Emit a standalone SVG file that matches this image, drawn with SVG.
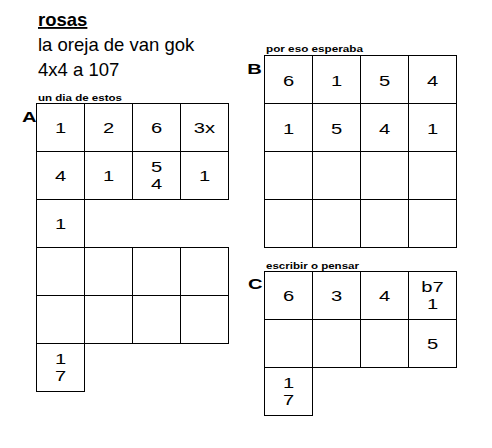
<svg xmlns="http://www.w3.org/2000/svg" width="492" height="448" viewBox="0 0 492 448">
<style>
.cell{fill:#fff;stroke:#000;stroke-width:1}
.v{font-family:"Liberation Sans",Arial,sans-serif;font-size:15.5px;text-anchor:middle;fill:#000}
.sub{font-family:"Liberation Sans",Arial,sans-serif;font-size:9.6px;font-weight:bold;fill:#000}
.let{font-family:"Liberation Sans",Arial,sans-serif;font-size:15.5px;font-weight:bold;fill:#000}
.t{font-family:"Liberation Sans",Arial,sans-serif;font-size:18.5px;fill:#000}
</style>
<rect width="492" height="448" fill="#fff"/>
<g id="title">
<text class="t" x="38" y="26" font-weight="bold" text-decoration="underline">rosas</text>
<text class="t" x="38" y="51">la oreja de van gok</text>
<text class="t" x="38" y="76">4x4 a 107</text>
</g>
<g id="gridA">
<text class="sub" x="38" y="101" textLength="84" lengthAdjust="spacingAndGlyphs">un dia de estos</text>
<text class="let" transform="translate(22 122.3) scale(1.3 1)">A</text>
<g id="A-r0">
<rect class="cell" x="36.5" y="103.5" width="48" height="48"/><text class="v" transform="translate(60.5 133.3) scale(1.3 1)">1</text>
<rect class="cell" x="84.5" y="103.5" width="48" height="48"/><text class="v" transform="translate(108.5 133.3) scale(1.3 1)">2</text>
<rect class="cell" x="132.5" y="103.5" width="48" height="48"/><text class="v" transform="translate(156.5 133.3) scale(1.3 1)">6</text>
<rect class="cell" x="180.5" y="103.5" width="48" height="48"/><text class="v" transform="translate(204.5 133.3) scale(1.3 1)">3x</text>
</g>
<g id="A-r1">
<rect class="cell" x="36.5" y="151.5" width="48" height="48"/><text class="v" transform="translate(60.5 181.3) scale(1.3 1)">4</text>
<rect class="cell" x="84.5" y="151.5" width="48" height="48"/><text class="v" transform="translate(108.5 181.3) scale(1.3 1)">1</text>
<rect class="cell" x="132.5" y="151.5" width="48" height="48"/><text class="v" transform="translate(156.5 171.7) scale(1.3 1)">5</text><text class="v" transform="translate(156.5 189.3) scale(1.3 1)">4</text>
<rect class="cell" x="180.5" y="151.5" width="48" height="48"/><text class="v" transform="translate(204.5 181.3) scale(1.3 1)">1</text>
</g>
<g id="A-r2">
<rect class="cell" x="36.5" y="199.5" width="48" height="48"/><text class="v" transform="translate(60.5 229.3) scale(1.3 1)">1</text>
</g>
<g id="A-r3">
<rect class="cell" x="36.5" y="247.5" width="48" height="48"/>
<rect class="cell" x="84.5" y="247.5" width="48" height="48"/>
<rect class="cell" x="132.5" y="247.5" width="48" height="48"/>
<rect class="cell" x="180.5" y="247.5" width="48" height="48"/>
</g>
<g id="A-r4">
<rect class="cell" x="36.5" y="295.5" width="48" height="48"/>
<rect class="cell" x="84.5" y="295.5" width="48" height="48"/>
<rect class="cell" x="132.5" y="295.5" width="48" height="48"/>
<rect class="cell" x="180.5" y="295.5" width="48" height="48"/>
</g>
<g id="A-r5">
<rect class="cell" x="36.5" y="343.5" width="48" height="48"/><text class="v" transform="translate(60.5 363.7) scale(1.3 1)">1</text><text class="v" transform="translate(60.5 381.3) scale(1.3 1)">7</text>
</g>
</g>
<g id="gridB">
<text class="sub" x="266" y="51.5" textLength="97" lengthAdjust="spacingAndGlyphs">por eso esperaba</text>
<text class="let" transform="translate(247.3 74.3) scale(1.3 1)">B</text>
<g id="B-r0">
<rect class="cell" x="264.5" y="55.5" width="48" height="48"/><text class="v" transform="translate(288.5 86.3) scale(1.3 1)">6</text>
<rect class="cell" x="312.5" y="55.5" width="48" height="48"/><text class="v" transform="translate(336.5 86.3) scale(1.3 1)">1</text>
<rect class="cell" x="360.5" y="55.5" width="48" height="48"/><text class="v" transform="translate(384.5 86.3) scale(1.3 1)">5</text>
<rect class="cell" x="408.5" y="55.5" width="48" height="48"/><text class="v" transform="translate(432.5 86.3) scale(1.3 1)">4</text>
</g>
<g id="B-r1">
<rect class="cell" x="264.5" y="103.5" width="48" height="48"/><text class="v" transform="translate(288.5 134.3) scale(1.3 1)">1</text>
<rect class="cell" x="312.5" y="103.5" width="48" height="48"/><text class="v" transform="translate(336.5 134.3) scale(1.3 1)">5</text>
<rect class="cell" x="360.5" y="103.5" width="48" height="48"/><text class="v" transform="translate(384.5 134.3) scale(1.3 1)">4</text>
<rect class="cell" x="408.5" y="103.5" width="48" height="48"/><text class="v" transform="translate(432.5 134.3) scale(1.3 1)">1</text>
</g>
<g id="B-r2">
<rect class="cell" x="264.5" y="151.5" width="48" height="48"/>
<rect class="cell" x="312.5" y="151.5" width="48" height="48"/>
<rect class="cell" x="360.5" y="151.5" width="48" height="48"/>
<rect class="cell" x="408.5" y="151.5" width="48" height="48"/>
</g>
<g id="B-r3">
<rect class="cell" x="264.5" y="199.5" width="48" height="48"/>
<rect class="cell" x="312.5" y="199.5" width="48" height="48"/>
<rect class="cell" x="360.5" y="199.5" width="48" height="48"/>
<rect class="cell" x="408.5" y="199.5" width="48" height="48"/>
</g>
</g>
<g id="gridC">
<text class="sub" x="266" y="268.5" textLength="93" lengthAdjust="spacingAndGlyphs">escribir o pensar</text>
<text class="let" transform="translate(248 289.3) scale(1.3 1)">C</text>
<g id="C-r0">
<rect class="cell" x="264.5" y="271.5" width="48" height="48"/><text class="v" transform="translate(288.5 301.3) scale(1.3 1)">6</text>
<rect class="cell" x="312.5" y="271.5" width="48" height="48"/><text class="v" transform="translate(336.5 301.3) scale(1.3 1)">3</text>
<rect class="cell" x="360.5" y="271.5" width="48" height="48"/><text class="v" transform="translate(384.5 301.3) scale(1.3 1)">4</text>
<rect class="cell" x="408.5" y="271.5" width="48" height="48"/><text class="v" transform="translate(432.5 291.7) scale(1.3 1)">b7</text><text class="v" transform="translate(432.5 309.3) scale(1.3 1)">1</text>
</g>
<g id="C-r1">
<rect class="cell" x="264.5" y="319.5" width="48" height="48"/>
<rect class="cell" x="312.5" y="319.5" width="48" height="48"/>
<rect class="cell" x="360.5" y="319.5" width="48" height="48"/>
<rect class="cell" x="408.5" y="319.5" width="48" height="48"/><text class="v" transform="translate(432.5 349.3) scale(1.3 1)">5</text>
</g>
<g id="C-r2">
<rect class="cell" x="264.5" y="367.5" width="48" height="48"/><text class="v" transform="translate(288.5 387.7) scale(1.3 1)">1</text><text class="v" transform="translate(288.5 405.3) scale(1.3 1)">7</text>
</g>
</g>
<g id="connectors"/>
</svg>
